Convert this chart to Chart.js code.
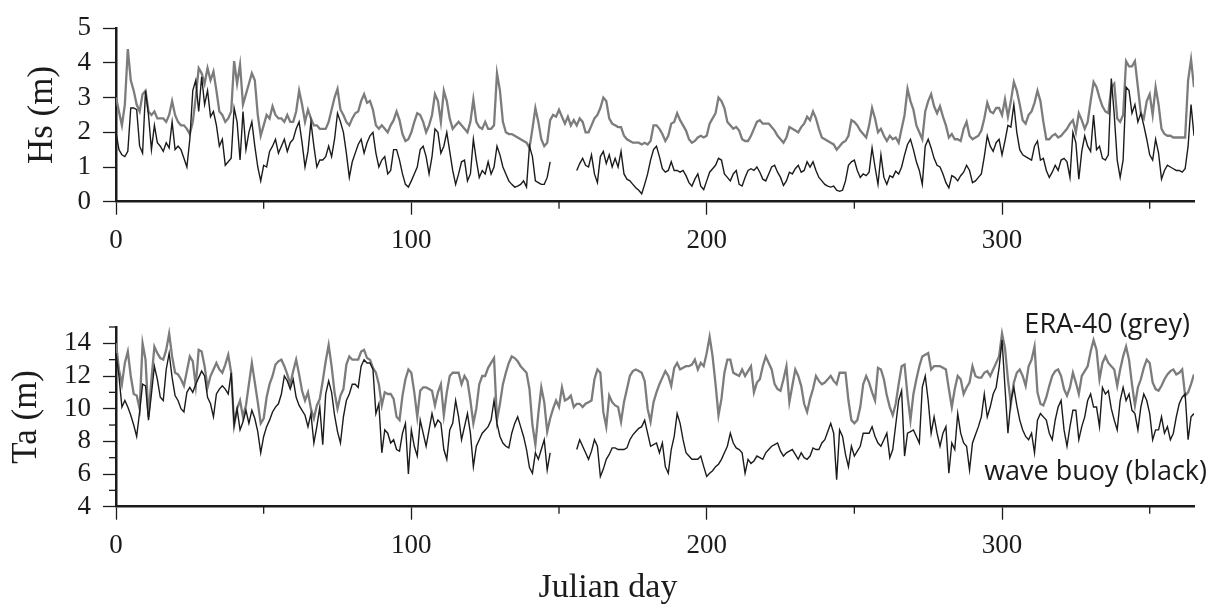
<!DOCTYPE html>
<html>
<head>
<meta charset="utf-8">
<title>Hs and Ta: ERA-40 vs wave buoy</title>
<script src="https://cdn.jsdelivr.net/npm/chart.js@4.4.0/dist/chart.umd.min.js"></script>
<style>
  html, body { margin: 0; padding: 0; background: #fff; }
  #wrap { position: relative; width: 1215px; height: 611px; }
  #wrap canvas { position: absolute; left: 0; }
  #hsChart { top: 0; }
  #taChart { top: 265px; }
</style>
</head>
<body>
<div id="wrap">
  <canvas id="hsChart" width="1215" height="265"></canvas>
  <canvas id="taChart" width="1215" height="346"></canvas>
</div>
<script>
// daily values, Julian day 0..365 (one value per day, null = no buoy record)
const hsEra = [
  3.0, 2.6, 2.2, 2.8, 4.4, 3.5, 3.2, 2.8, 2.6, 3.1,
  3.2, 2.6, 2.5, 2.6, 2.4, 2.4, 2.4, 2.3, 2.5, 2.9,
  2.5, 2.3, 2.2, 2.2, 2.1, 1.95, 2.3, 3.0, 3.85, 3.7,
  3.4, 3.85, 3.5, 3.75, 3.2, 2.6, 2.5, 2.3, 2.4, 2.6,
  4.05, 3.4, 3.95, 2.8, 3.1, 3.4, 3.7, 3.5, 2.5, 1.9,
  2.2, 2.5, 2.4, 2.75, 2.5, 2.4, 2.4, 2.3, 2.5, 2.3,
  2.3, 2.6, 3.2, 2.8, 2.3, 2.65, 2.4, 2.2, 2.2, 2.1,
  2.1, 2.1, 2.3, 2.65, 3.0, 3.25, 2.65, 2.5, 2.3, 2.2,
  2.4, 2.55, 2.6, 2.9, 3.1, 2.85, 2.9, 2.65, 2.2, 2.1,
  2.2, 2.1, 2.0, 2.2, 2.35, 2.6, 2.35, 1.95, 1.75, 1.8,
  2.0, 2.3, 2.55, 2.5, 2.3, 2.0, 2.2, 2.5, 3.1, 2.9,
  2.3, 3.2, 2.9, 2.4, 2.1, 2.2, 2.3, 2.2, 2.1, 2.0,
  2.3, 2.95, 2.3, 2.15, 2.1, 2.3, 2.1, 2.1, 2.2, 3.7,
  3.2, 2.3, 2.0, 1.95, 1.95, 1.9, 1.85, 1.8, 1.75, 1.7,
  1.55, 2.1, 2.7, 2.3, 1.8, 1.6, 1.7, 2.35, 2.5, 2.45,
  2.65, 2.45, 2.25, 2.45, 2.2, 2.35, 2.2, 2.4, 2.3, 2.0,
  2.0, 2.2, 2.4, 2.5, 2.7, 3.0, 2.9, 2.4, 2.25, 2.2,
  2.15, 2.15, 1.9, 1.8, 1.75, 1.7, 1.7, 1.7, 1.65, 1.7,
  1.65, 1.75, 2.2, 2.2, 2.1, 1.95, 1.75, 1.9, 2.25, 2.3,
  2.55, 2.35, 2.2, 2.05, 1.8, 1.7, 1.75, 1.85, 1.9, 1.85,
  1.9, 2.25, 2.4, 2.55, 3.0, 2.9, 2.7, 2.3, 2.2, 2.1,
  2.15, 2.05, 1.8, 1.75, 1.75, 1.9, 2.1, 2.3, 2.35, 2.25,
  2.25, 2.25, 2.15, 2.05, 1.9, 1.8, 1.7, 1.85, 2.15, 2.1,
  2.05, 2.0, 2.15, 2.25, 2.45, 2.35, 2.6, 2.4, 2.1, 1.85,
  1.8, 1.75, 1.7, 1.65, 1.5, 1.6, 1.7, 1.75, 1.9, 2.35,
  2.3, 2.2, 2.05, 1.95, 1.85, 2.2, 2.7, 2.4, 2.0, 2.1,
  1.9, 1.75, 1.9, 1.8, 1.85, 1.7, 2.1, 2.5, 3.25, 2.9,
  2.65, 2.2, 2.0, 1.8, 2.6, 2.9, 3.1, 2.75, 2.55, 2.75,
  2.45, 2.2, 1.85, 1.95, 1.8, 1.8, 1.75, 2.1, 2.3, 1.9,
  1.8, 1.85, 1.9, 2.05, 2.4, 2.85, 2.6, 2.55, 2.7, 2.7,
  2.5, 2.95, 2.45, 2.9, 3.45, 3.2, 2.8, 2.35, 2.25, 2.5,
  2.6, 2.85, 3.2, 2.9, 2.3, 1.8, 1.8, 1.9, 1.95, 1.85,
  1.9, 2.0, 2.1, 2.25, 2.35, 2.0, 2.55, 2.35, 2.1, 2.3,
  2.9, 3.45, 3.3, 3.0, 2.75, 2.6, 2.55, 3.3, 3.4, 2.4,
  2.3, 2.5, 4.05, 3.9, 3.9, 4.05, 3.3, 2.55, 2.4, 2.9,
  3.1, 2.5, 3.3, 2.8, 2.1, 1.95, 1.9, 1.9, 1.85, 1.85,
  1.85, 1.85, 1.85, 3.5, 4.1, 3.3
];

const hsBuoy = [
  2.0, 1.5, 1.35, 1.3, 1.45, 2.7, 2.7, 2.65, 1.6, 1.4,
  3.2, 2.5, 1.5, 2.2, 1.7, 1.6, 1.45, 1.7, 1.55, 2.3,
  1.5, 1.6, 1.5, 1.25, 1.0, 1.8, 3.2, 3.5, 2.6, 3.6,
  2.8, 3.2, 2.45, 2.6, 2.2, 1.6, 1.8, 1.05, 1.15, 1.25,
  2.7, 2.3, 1.2, 2.6, 1.5, 2.0, 2.3, 1.6, 1.0, 0.6,
  1.05, 1.0, 1.45, 1.6, 1.8, 1.4, 1.6, 1.8, 1.45, 1.7,
  1.8, 2.1, 2.3, 1.7, 1.0, 1.45, 2.3, 1.6, 1.0, 1.2,
  1.2, 1.3, 1.6, 1.3, 1.8, 2.55, 2.3, 2.0, 1.4, 0.7,
  1.15, 1.4, 1.65, 1.8, 1.4, 1.7, 1.9, 2.0, 1.4, 1.0,
  1.2, 1.3, 0.8, 0.9, 1.5, 1.5, 1.2, 0.8, 0.5, 0.42,
  0.6, 0.8, 1.0, 1.5, 1.6, 1.3, 0.8, 1.3, 2.1, 2.0,
  1.4, 1.6, 2.0, 1.45, 0.9, 0.5, 0.8, 1.15, 1.2, 0.6,
  0.8, 1.8, 1.2, 0.7, 0.9, 0.8, 1.15, 0.8, 1.0, 1.6,
  1.35, 1.0, 0.8, 0.6, 0.5, 0.42, 0.45, 0.5, 0.6, 0.42,
  1.6, 1.3, 0.6, 0.55, 0.5, 0.5, 0.7, 1.15, null, null,
  null, null, null, null, null, null, 0.9, 1.1, 1.25, 1.05,
  1.0, 1.35, 0.8, 0.55, 1.3, 1.45, 1.1, 1.35, 1.0, 1.25,
  1.0, 1.45, 0.8, 0.65, 0.6, 0.5, 0.4, 0.33, 0.23, 0.5,
  0.8, 1.2, 1.5, 1.6, 1.3, 0.95, 0.85, 0.9, 1.15, 0.9,
  0.9, 0.85, 0.9, 0.75, 0.55, 0.45, 0.65, 0.8, 0.45, 0.35,
  0.6, 0.85, 0.95, 1.05, 1.25, 1.2, 0.8, 0.7, 0.6, 0.8,
  0.9, 0.5, 0.45, 0.7, 0.9, 0.95, 0.9, 1.0, 0.85, 0.65,
  0.6, 0.8, 1.0, 1.05, 0.85, 0.7, 0.47, 0.6, 0.85, 0.8,
  0.95, 1.05, 0.85, 0.9, 1.15, 1.0, 1.15, 0.9, 0.7, 0.6,
  0.5, 0.45, 0.42, 0.45, 0.33, 0.3, 0.33, 0.6, 1.05, 1.15,
  1.2, 0.9, 0.7, 0.8, 0.75, 0.85, 1.55, 1.0, 0.5, 1.35,
  0.7, 0.5, 0.75, 0.7, 0.88, 0.8, 1.0, 1.35, 1.65, 1.8,
  1.5, 1.15, 0.9, 0.5, 1.6, 1.8, 1.55, 1.25, 1.05, 1.0,
  0.8, 0.55, 0.4, 0.75, 0.7, 0.6, 0.75, 0.85, 1.05, 0.9,
  0.55, 0.6, 0.7, 0.8, 1.3, 1.9, 1.6, 1.45, 1.7, 1.8,
  1.35, 1.75, 2.2, 2.15, 2.8, 2.0, 1.5, 1.35, 1.3, 1.25,
  1.2, 1.6, 1.75, 1.2, 1.25, 0.9, 0.7, 0.85, 1.05, 0.9,
  1.2, 1.25, 1.15, 0.7, 2.0, 1.7, 0.65, 1.45, 1.9, 1.6,
  1.45, 2.5, 1.5, 1.6, 1.25, 1.2, 1.35, 3.55, 2.5, 1.2,
  0.7, 1.2, 3.3, 3.2, 2.55, 2.8, 2.3, 2.55, 2.2, 1.8,
  1.35, 1.2, 1.8, 1.4, 0.65, 0.9, 1.05, 1.0, 0.95, 0.9,
  0.9, 0.85, 0.95, 1.6, 2.8, 1.9
];

const taEra = [
  14.0, 12.4, 11.5, 12.8, 13.5, 12.0, 10.9, 10.8, 10.0, 14.0,
  13.0, 9.5, 11.8, 13.8, 13.4, 13.1, 13.0, 13.6, 14.6, 13.2,
  12.2, 12.1, 11.8, 11.4, 12.3, 13.2, 12.9, 11.4, 13.6, 13.5,
  12.6, 11.3, 12.0, 12.4, 12.8, 12.4, 12.2, 12.7, 13.3, 12.2,
  9.0, 10.0, 10.5, 9.5, 10.2, 11.5, 12.8, 11.6, 10.4, 9.1,
  9.4, 10.7, 11.5, 12.0, 12.7, 12.9, 13.0, 12.6, 12.1, 11.5,
  12.3, 13.0, 12.1, 11.1, 10.5, 11.0, 10.0, 9.4, 10.2, 10.6,
  11.7, 12.9, 13.9, 12.6, 11.0, 10.0, 10.8, 11.2, 12.7, 13.2,
  13.0, 13.0, 13.0, 13.5, 13.6, 13.1, 13.0, 12.5, 12.2, 11.5,
  10.2, 11.0, 10.9, 10.9, 10.6, 9.5, 9.3, 10.8, 11.8, 12.4,
  12.2, 11.0, 9.5, 11.1, 11.3, 11.3, 11.2, 11.1, 10.2, 11.0,
  11.5, 9.6, 11.0, 12.0, 12.2, 12.2, 12.2, 11.5, 12.0, 11.7,
  10.5, 9.1, 10.0, 11.5, 12.0, 12.0, 12.5, 12.8, 13.1, 9.3,
  10.3, 11.5, 12.2, 12.8, 13.2, 13.1, 12.9, 12.6, 12.4, 12.2,
  11.2, 9.0, 7.8, 9.7, 11.3, 10.4, 8.6, 9.4, 10.0, 10.5,
  10.1, 11.3, 10.5, 10.6, 10.8, 10.1, 10.3, 10.3, 10.1, 10.3,
  10.4, 10.5, 11.8, 12.4, 12.2, 9.8, 8.9, 10.8, 10.4, 10.2,
  10.1, 9.2, 10.4, 11.2, 12.0, 12.3, 12.4, 12.3, 12.2, 11.7,
  10.0, 9.2, 10.4, 11.0, 11.5, 11.9, 12.3, 12.0, 11.4, 12.5,
  12.8, 12.4, 12.5, 12.6, 12.6, 12.7, 13.0, 12.4, 12.8, 12.6,
  13.4, 14.4, 13.2, 11.5, 9.6, 10.6, 12.2, 13.0, 13.0, 12.2,
  12.1, 12.0, 12.4, 12.0, 12.3, 12.6, 11.0, 11.6, 11.8, 12.6,
  13.2, 12.8, 12.4, 11.5, 11.2, 11.1, 11.8, 12.6, 10.4, 11.4,
  12.4, 12.0, 11.4, 10.3, 9.8, 10.6, 11.2, 12.0, 11.7, 11.5,
  11.6, 11.8, 12.0, 11.7, 11.5, 12.2, 12.2, 12.2, 10.5, 9.3,
  9.1, 9.3, 10.1, 11.5, 12.0, 11.6, 11.0, 10.5, 12.5, 12.4,
  11.8, 10.8, 10.1, 9.6, 10.3, 11.5, 12.6, 12.7, 10.8, 9.3,
  10.9, 11.8, 12.6, 13.2, 13.3, 13.4, 12.4, 12.6, 12.6, 12.6,
  12.5, 12.4, 11.2, 10.1, 11.2, 12.0, 11.8, 10.9, 11.3, 11.6,
  12.6, 12.0, 11.9, 11.9, 12.2, 12.3, 12.0, 12.4, 12.8, 13.2,
  14.6, 13.7, 11.8, 10.3, 11.6, 12.2, 12.4, 12.0, 11.4, 12.6,
  13.0, 13.8, 11.0, 10.3, 10.2, 10.7, 11.4, 12.0, 12.3, 12.4,
  12.0, 11.2, 10.8, 11.3, 12.2, 11.6, 10.9, 12.0, 12.3, 12.6,
  13.5, 14.2, 13.6, 11.8, 12.8, 13.2, 12.8, 12.6, 12.4, 11.4,
  12.4, 13.2, 13.8, 13.0, 11.5, 10.2, 11.3, 11.8, 12.5, 13.0,
  12.8, 11.6, 11.2, 11.1, 11.4, 11.8, 12.1, 12.3, 12.4, 12.1,
  12.2, 12.4, 10.8, 11.0, 11.5, 12.1
];

const taBuoy = [
  13.4, 12.0, 10.1, 10.5, 10.1, 9.6, 9.0, 8.3, 9.8, 11.5,
  11.4, 9.3, 10.9, 12.6, 11.8, 10.7, 10.5, 12.4, 13.4, 11.9,
  10.8, 10.5, 10.0, 9.8, 11.0, 11.3, 11.0, 11.5, 11.9, 12.3,
  12.0, 10.7, 10.3, 9.5, 10.9, 11.2, 11.4, 11.2, 10.9, 12.2,
  9.0, 10.0, 8.7, 9.2, 9.9, 9.1, 9.9, 9.4, 8.6, 7.3,
  8.3, 8.9, 9.3, 9.8, 10.1, 10.3, 10.9, 12.0, 11.7, 11.2,
  11.8, 10.7, 10.2, 9.9, 9.6, 8.9, 9.7, 7.9, 8.9, 10.1,
  7.8, 10.9, 11.7, 11.0, 9.6, 8.6, 7.9, 9.5, 10.5, 10.9,
  11.5, 11.5, 11.3, 12.6, 13.0, 12.8, 12.8, 12.4, 9.7, 10.3,
  7.3, 8.7, 8.5, 7.9, 8.1, 7.5, 7.4, 8.5, 9.1, 6.0,
  8.7, 7.7, 7.1, 9.3, 8.5, 7.7, 8.7, 9.7, 8.9, 9.3,
  9.1, 7.5, 6.9, 8.7, 9.1, 10.5, 9.5, 8.1, 8.9, 9.7,
  8.5, 6.45, 7.7, 8.1, 8.5, 8.7, 8.9, 9.3, 10.5, 9.1,
  8.3, 7.9, 7.7, 7.6, 8.5, 9.1, 9.5, 8.9, 8.3, 7.5,
  6.4, 6.05, 7.3, 6.9, 7.5, 8.1, 6.25, 7.3, null, null,
  null, null, null, null, null, null, 7.5, 8.1, 7.7, 7.3,
  6.9, 7.4, 8.1, 7.7, 5.85, 6.3, 6.9, 7.2, 7.6, 7.6,
  7.5, 7.5, 7.5, 7.6, 8.1, 8.4, 8.6, 8.8, 8.9, 9.3,
  8.5, 7.7, 7.8, 7.9, 7.3, 7.9, 6.45, 6.05, 7.5, 8.3,
  9.7, 9.1, 8.1, 7.3, 7.1, 6.9, 6.9, 6.9, 7.1, 6.45,
  5.85, 6.05, 6.2, 6.45, 6.6, 6.9, 7.3, 7.7, 8.5, 7.9,
  7.6, 7.5, 7.3, 6.05, 6.9, 6.65, 6.8, 7.1, 7.0, 6.9,
  7.3, 7.5, 7.7, 7.8, 7.9, 7.4, 7.1, 7.3, 7.4, 7.5,
  7.2, 6.9, 7.3, 7.0, 6.9, 7.1, 7.6, 7.5, 7.5, 7.9,
  8.1, 8.6, 9.1, 8.5, 5.65, 8.7, 8.3, 7.2, 6.45, 7.7,
  7.1, 7.4, 7.7, 8.5, 8.5, 8.5, 8.9, 8.3, 7.9, 7.7,
  8.1, 8.5, 7.0, 7.5, 9.0, 10.5, 11.1, 7.1, 8.5, 8.6,
  8.7, 8.3, 7.9, 11.3, 12.0, 10.5, 8.5, 9.5, 8.5, 7.7,
  8.5, 8.9, 6.05, 7.9, 7.5, 9.7, 8.5, 7.9, 7.7, 6.25,
  7.9, 8.4, 8.9, 9.5, 10.9, 9.5, 10.1, 10.9, 11.3, 12.5,
  14.2, 11.3, 8.5, 10.5, 11.3, 10.2, 9.3, 8.7, 8.3, 8.1,
  8.5, 7.3, 9.3, 9.7, 9.5, 9.3, 8.5, 8.1, 9.3, 10.1,
  10.5, 8.7, 7.7, 8.9, 9.9, 9.9, 8.1, 8.9, 9.5, 10.5,
  10.9, 10.1, 10.1, 8.9, 11.3, 10.9, 11.1, 10.0, 9.3, 8.7,
  10.5, 11.3, 10.5, 10.9, 9.9, 9.7, 8.7, 10.1, 10.9, 10.5,
  9.7, 8.1, 8.7, 8.7, 9.5, 8.5, 8.9, 8.1, 8.5, 9.5,
  10.3, 10.7, 10.9, 8.1, 9.5, 9.7
];

const xTickLabels = [0, 100, 200, 300];
const hsTickLabels = [0, 1, 2, 3, 4, 5];
const taTickLabels = [4, 6, 8, 10, 12, 14];

const SERIF = "'Liberation Serif', 'DejaVu Serif', serif";
const SANS = "'Open Sans', 'Noto Sans', sans-serif";
const INK = '#1b1b1b';
const GREY = '#7c7c7c';

function toPoints(values) {
  return values.map((v, day) => ({ x: day, y: v }));
}

// short ticks for unlabelled positions (50s on x, odd values on Ta)
const minorTicks = {
  id: 'minorTicks',
  afterDraw(chart) {
    const ctx = chart.ctx;
    ctx.save();
    ctx.strokeStyle = INK;
    ctx.lineWidth = 1.3;
    const xs = chart.scales.x, ys = chart.scales.y;
    xs.ticks.forEach(t => {
      if (xTickLabels.includes(t.value)) return;
      const p = xs.getPixelForValue(t.value);
      ctx.beginPath();
      ctx.moveTo(p, xs.top);
      ctx.lineTo(p, xs.top + 7);
      ctx.stroke();
    });
    const labelled = chart.options.plugins.minorTicks.yLabels;
    ys.ticks.forEach(t => {
      if (labelled.includes(t.value)) return;
      const p = ys.getPixelForValue(t.value);
      ctx.beginPath();
      ctx.moveTo(ys.right, p);
      ctx.lineTo(ys.right - 7, p);
      ctx.stroke();
    });
    ctx.restore();
  }
};

// source notes inside the Ta panel, plus the shared x-axis caption
const seriesNotes = {
  id: 'seriesNotes',
  afterDraw(chart) {
    const ctx = chart.ctx, area = chart.chartArea, ys = chart.scales.y;
    ctx.save();
    ctx.fillStyle = INK;
    ctx.font = '27px ' + SANS;
    ctx.textAlign = 'right';
    ctx.textBaseline = 'alphabetic';
    ctx.fillText('ERA-40 (grey)', area.right - 4, ys.getPixelForValue(14.63));
    ctx.fillText('wave buoy (black)', area.right + 13, ys.getPixelForValue(5.64));

    ctx.font = '34px ' + SERIF;
    ctx.textAlign = 'center';
    ctx.fillText('Julian day', 608, chart.height - 14);
    ctx.restore();
  }
};

function makePanel(canvasId, o) {
  const canvasH = document.getElementById(canvasId).height;
  return new Chart(document.getElementById(canvasId), {
    type: 'line',
    data: {
      datasets: [
        { label: 'wave buoy', data: toPoints(o.buoy), borderColor: INK, borderWidth: 1.4,
          pointRadius: 0, tension: 0, spanGaps: false },
        { label: 'ERA-40', data: toPoints(o.era), borderColor: GREY, borderWidth: 2.3,
          pointRadius: 0, tension: 0 }
      ]
    },
    options: {
      responsive: false,
      animation: false,
      events: [],
      layout: { padding: { left: 0, right: 21, top: o.top, bottom: 0 } },
      plugins: {
        legend: { display: false },
        tooltip: { enabled: false },
        minorTicks: { yLabels: o.yLabels }
      },
      scales: {
        x: {
          type: 'linear', min: 0, max: 365,
          afterFit(s) { s.height = canvasH - o.bottom; },
          border: { display: true, color: INK, width: 2.5 },
          grid: {
            drawOnChartArea: false, drawTicks: true, tickLength: 13, tickWidth: 1.3,
            tickColor: c => (c.tick && xTickLabels.includes(c.tick.value)) ? INK : 'rgba(0,0,0,0)'
          },
          ticks: {
            stepSize: 50, includeBounds: false, autoSkip: false, maxRotation: 0, padding: 10,
            color: INK, font: { family: SERIF, size: 27 },
            callback: v => xTickLabels.includes(v) ? String(v) : ''
          }
        },
        y: {
          min: o.yMin, max: o.yMax,
          afterFit(s) { s.width = 116; },
          border: { display: true, color: INK, width: 2.5 },
          grid: {
            drawOnChartArea: false, drawTicks: true, tickLength: 13, tickWidth: 1.3,
            tickColor: c => (c.tick && o.yLabels.includes(c.tick.value)) ? INK : 'rgba(0,0,0,0)'
          },
          ticks: {
            stepSize: 1, autoSkip: false, padding: 12,
            color: INK, font: { family: SERIF, size: 27 },
            callback: v => o.yLabels.includes(v) ? String(v) : ''
          },
          title: {
            display: true, text: o.yTitle, color: INK,
            font: { family: SERIF, size: 35, lineHeight: 1.2 },
            padding: { top: o.titlePad, bottom: 0 }
          }
        }
      }
    },
    plugins: o.extra ? [minorTicks, o.extra] : [minorTicks]
  });
}

makePanel('hsChart', {
  era: hsEra, buoy: hsBuoy, yMin: 0, yMax: 5, yLabels: hsTickLabels,
  yTitle: 'Hs (m)', titlePad: 22, top: 22.7, bottom: 201.7
});

makePanel('taChart', {
  era: taEra, buoy: taBuoy, yMin: 4, yMax: 15, yLabels: taTickLabels,
  yTitle: 'Ta (m)', titlePad: 6, top: 62, bottom: 241.7,
  extra: seriesNotes
});
</script>
</body>
</html>
